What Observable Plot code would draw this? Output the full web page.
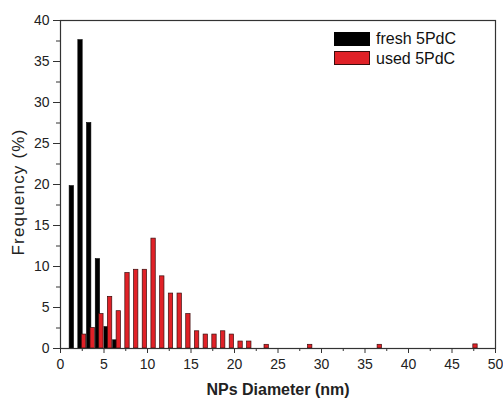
<!DOCTYPE html>
<html>
<head>
<meta charset="utf-8">
<script src="https://cdn.jsdelivr.net/npm/d3@7"></script>
<script src="https://cdn.jsdelivr.net/npm/@observablehq/plot@0.6"></script>
<style>
  html, body { margin: 0; padding: 0; background: #fff; }
  #chart { position: relative; width: 503px; height: 398px; font-family: "Liberation Sans", Arial, sans-serif; }
  #legend { position: absolute; left: 334px; top: 29px; font-size: 16px; color: #111; line-height: 19.5px; }
  #legend .row { display: flex; align-items: center; }
  #legend .sw { width: 36px; height: 14px; margin-right: 6px; box-sizing: border-box; }
</style>
</head>
<body>
<div id="chart"><div id="legend"></div></div>
<script>
// Bin centres (nm) and frequencies (%)
const freshX = [1.3, 2.3, 3.3, 4.3, 5.3, 6.3];
const freshY = [19.8, 37.6, 27.5, 10.9, 2.6, 1.0];
const usedX = [2.7, 3.7, 4.7, 5.7, 6.7, 7.7, 8.7, 9.7, 10.7, 11.7, 12.7, 13.7, 14.7, 15.7, 16.7, 17.7, 18.7, 19.7, 20.7, 21.7, 23.7, 28.7, 36.7, 47.7];
const usedY = [1.7, 2.5, 4.2, 6.3, 4.55, 9.2, 9.6, 9.6, 13.4, 8.8, 6.7, 6.7, 4.2, 2.1, 1.7, 1.7, 2.1, 1.7, 0.85, 0.85, 0.45, 0.45, 0.45, 0.5];
const seriesNames = ["fresh 5PdC", "used 5PdC"];
const xTicks = [0, 5, 10, 15, 20, 25, 30, 35, 40, 45, 50];
const xMinor = [2.5, 7.5, 12.5, 17.5, 22.5, 27.5, 32.5, 37.5, 42.5, 47.5];
const yTicks = [0, 5, 10, 15, 20, 25, 30, 35, 40];
const yMinor = [2.5, 7.5, 12.5, 17.5, 22.5, 27.5, 32.5, 37.5];
const xTitle = "NPs Diameter (nm)";
const yTitle = "Frequency (%)";

const fresh = freshX.map((x, i) => ({x, y: freshY[i]}));
const used = usedX.map((x, i) => ({x, y: usedY[i]}));
const hw = 0.25;

const chart = Plot.plot({
  width: 503,
  height: 398,
  marginLeft: 60,
  marginRight: 8,
  marginTop: 20,
  marginBottom: 50,
  style: {fontFamily: "'Liberation Sans', Arial, sans-serif", color: "#222", background: "#fff"},
  x: {domain: [0, 50]},
  y: {domain: [0, 40]},
  marks: [
    Plot.rectY(fresh, {x1: d => d.x - hw, x2: d => d.x + hw, y: "y", fill: "#000", stroke: "#000", strokeWidth: 0.6}),
    Plot.rectY(used, {x1: d => d.x - hw, x2: d => d.x + hw, y: "y", fill: "#e02127", stroke: "#3a0d0d", strokeWidth: 0.7}),
    Plot.frame({stroke: "#333", strokeWidth: 1.2}),
    Plot.axisX(xTicks, {tickSize: 5, tickPadding: 6, fontSize: 14, label: null, stroke: "#333"}),
    Plot.axisX(xMinor, {tickSize: 3, tickFormat: () => "", label: null, stroke: "#333"}),
    Plot.axisY(yTicks, {tickSize: 7, tickPadding: 4, fontSize: 14, label: null, stroke: "#333"}),
    Plot.axisY(yMinor, {tickSize: 4, tickFormat: () => "", label: null, stroke: "#333"}),
    Plot.text([xTitle], {frameAnchor: "bottom", dy: 41, lineAnchor: "middle", fontSize: 16, fill: "#222", fontWeight: "bold"})
  ]
});
document.getElementById("chart").prepend(chart);

// y-axis title, rotated, beside the axis
d3.select(chart).append("text")
  .attr("transform", "translate(18,192) rotate(-90)")
  .attr("text-anchor", "middle")
  .attr("dy", "0.35em")
  .attr("fill", "#222")
  .style("font-size", "17px")
  .style("letter-spacing", "1.2px")
  .text(yTitle);

const colors = ["#000", "#e02127"];
const strokes = ["#000", "#3a0d0d"];
const legend = document.getElementById("legend");
seriesNames.forEach((name, i) => {
  const row = document.createElement("div");
  row.className = "row";
  const sw = document.createElement("span");
  sw.className = "sw";
  sw.style.background = colors[i];
  sw.style.border = "1px solid " + strokes[i];
  row.appendChild(sw);
  row.appendChild(document.createTextNode(name));
  legend.appendChild(row);
});
</script>
</body>
</html>
